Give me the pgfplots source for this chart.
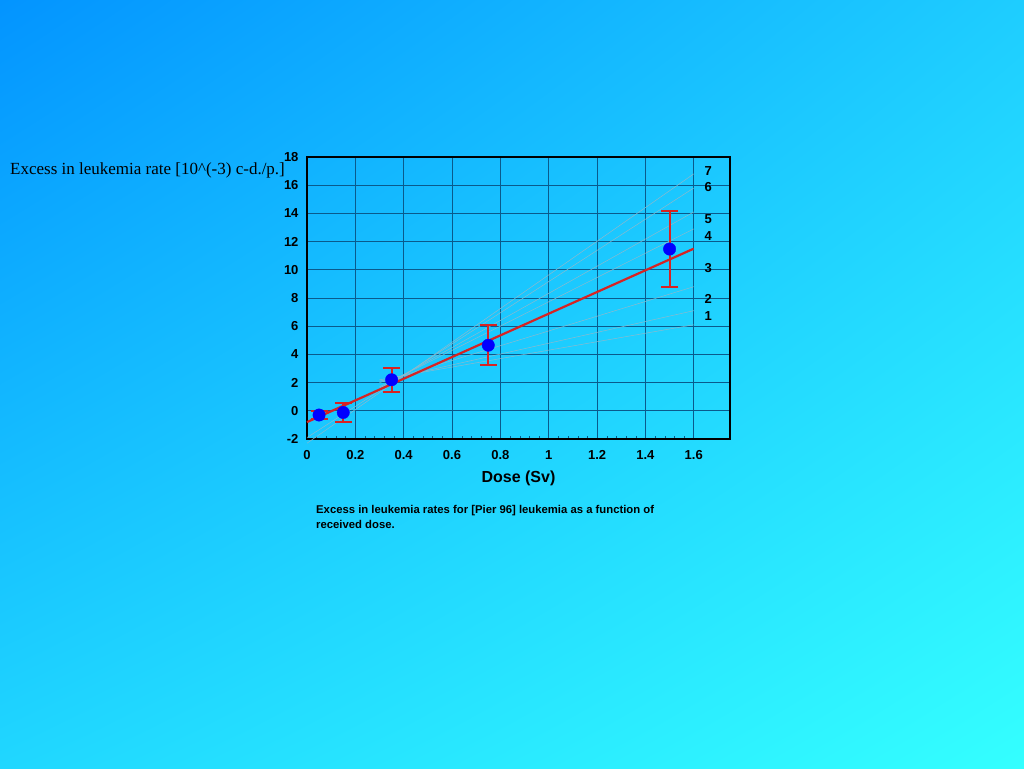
\documentclass[border=0pt]{standalone}
\usepackage{pgfplots}
\pgfplotsset{compat=1.18}
\usetikzlibrary{shadings}
\usepackage{fontspec}
\setmainfont{Liberation Sans}
\newfontfamily\timesfont{Liberation Serif}
\definecolor{bgA}{RGB}{3,148,255}
\definecolor{bgB}{RGB}{52,255,255}
\definecolor{bgTR}{RGB}{30,205,255}
\definecolor{bgBL}{RGB}{32,215,255}
\definecolor{gridc}{RGB}{10,90,140}
\definecolor{fitred}{RGB}{215,35,35}
\definecolor{fangray}{RGB}{140,185,205}
\begin{document}
\begin{tikzpicture}[x=1pt,y=1pt]
\shade[upper left=bgA, lower right=bgB, upper right=bgTR, lower left=bgBL] (0,0) rectangle (1024,768);
\node[anchor=west, font=\timesfont\fontsize{17}{17}\selectfont, inner sep=0pt] at (10,598) {Excess in leukemia rate [10\^{}(-3) c-d./p.]};
\node[anchor=north west, align=left, inner sep=0pt, font=\bfseries\fontsize{11.3}{15}\selectfont] at (316,263) {Excess in leukemia rates for [Pier 96] leukemia as a function of\\received dose.};
\begin{axis}[
  at={(307pt,329pt)}, anchor=south west, scale only axis,
  width=423pt, height=282pt,
  xmin=0, xmax=1.75, ymin=-2, ymax=18,
  xtick={0,0.2,0.4,0.6,0.8,1,1.2,1.4,1.6},
  ytick={-2,0,2,4,6,8,10,12,14,16,18},
  minor x tick num=4,
  xtick pos=bottom, ytick pos=left,
  major tick length=0pt, minor tick length=3pt,
  tick align=inside,
  minor tick style={gridc, line width=0.4pt},
  grid=major,
  major grid style={gridc, line width=0.7pt},
  axis line style={black, line width=1.6pt},
  clip=false,
  /pgf/number format/assume math mode=true,
  ticklabel style={font=\bfseries\fontsize{13}{13}\selectfont},
  xticklabel style={yshift=-8pt},
  yticklabel style={xshift=-5pt},
  xlabel={Dose (Sv)},
  xlabel style={font=\bfseries\fontsize{16}{16}\selectfont, at={(axis description cs:0.5,0)}, anchor=center, yshift=-39pt},
]
% fan of comparison lines
\addplot[fangray, line width=0.5pt] coordinates {(0.0,-2.3) (1.6,16.8)};
\addplot[fangray, line width=0.5pt] coordinates {(0.0,-1.9) (1.6,15.8)};
\addplot[fangray, line width=0.5pt] coordinates {(0.3,1.6) (1.6,14.1)};
\addplot[fangray, line width=0.5pt] coordinates {(0.3,1.7) (1.6,12.9)};
\addplot[fangray, line width=0.5pt] coordinates {(0.3,2.0) (1.6,8.8)};
\addplot[fangray, line width=0.5pt] coordinates {(0.3,2.1) (1.6,7.1)};
\addplot[fangray, line width=0.5pt] coordinates {(0.3,2.2) (1.6,6.1)};
% fit line
\addplot[fitred, line width=2.2pt] coordinates {(0,-0.8) (1.6,11.5)};
% error bars
\addplot[fitred, line width=2pt, only marks, mark=none,
  error bars/.cd, y dir=both, y explicit,
  error bar style={draw=fitred, line width=2pt},
  error mark options={draw=fitred, line width=2pt, mark size=8.5pt, rotate=90}]
  coordinates {
  (0.05,-0.3) +- (0,0.3)
  (0.15,-0.12) +- (0,0.65)
  (0.35,2.2) +- (0,0.85)
  (0.75,4.65) +- (0,1.42)
  (1.5,11.47) +- (0,2.69)
  };
% data points
\addplot[only marks, mark=*, mark size=6.2pt, mark options={fill=blue, draw=blue}]
  coordinates {
  (0.05,-0.3)
  (0.15,-0.12)
  (0.35,2.2)
  (0.75,4.65)
  (1.5,11.47)
  };
\node[font=\bfseries\fontsize{13}{13}\selectfont] at (axis cs:1.66,17.0) {7};
\node[font=\bfseries\fontsize{13}{13}\selectfont] at (axis cs:1.66,15.9) {6};
\node[font=\bfseries\fontsize{13}{13}\selectfont] at (axis cs:1.66,13.6) {5};
\node[font=\bfseries\fontsize{13}{13}\selectfont] at (axis cs:1.66,12.4) {4};
\node[font=\bfseries\fontsize{13}{13}\selectfont] at (axis cs:1.66,10.1) {3};
\node[font=\bfseries\fontsize{13}{13}\selectfont] at (axis cs:1.66,7.9) {2};
\node[font=\bfseries\fontsize{13}{13}\selectfont] at (axis cs:1.66,6.7) {1};
\end{axis}
\end{tikzpicture}
\end{document}
